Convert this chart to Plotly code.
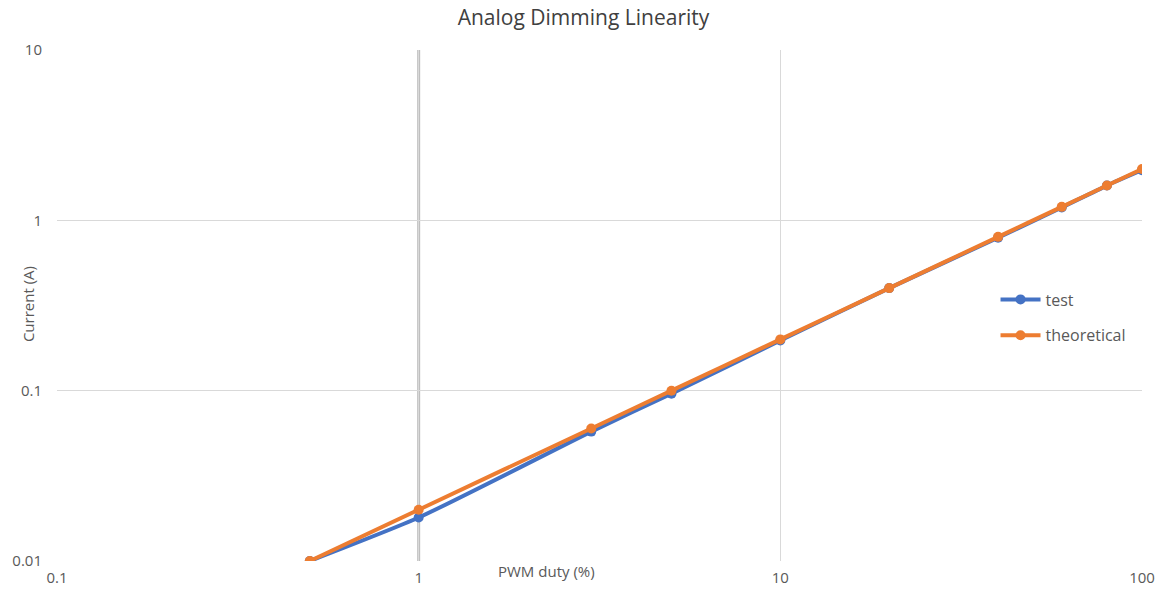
import plotly.graph_objects as go

duty = [0.5, 1, 3, 5, 10, 20, 40, 60, 80, 100]
test = [0.01, 0.018, 0.0575, 0.096, 0.197, 0.4, 0.79, 1.19, 1.6, 1.97]
theoretical = [0.01, 0.02, 0.06, 0.1, 0.2, 0.4, 0.8, 1.2, 1.6, 2.0]
x_ticks = [0.1, 1, 10, 100]
x_labels = ["0.1", "1", "10", "100"]
y_ticks = [0.01, 0.1, 1, 10]
y_labels = ["0.01", "0.1", "1", "10"]

font = "Open Sans, Liberation Sans, sans-serif"

fig = go.Figure()
fig.add_trace(go.Scatter(x=duty, y=test, name="test", mode="lines+markers", legendgroup="a",
                         line=dict(color="#4472C4", width=4, shape="spline", smoothing=0.6),
                         marker=dict(size=10, color="#4472C4")))
fig.add_trace(go.Scatter(x=duty, y=theoretical, name="theoretical", mode="lines+markers", legendgroup="b",
                         line=dict(color="#ED7D31", width=4, shape="spline", smoothing=0.6),
                         marker=dict(size=10, color="#ED7D31")))

fig.add_shape(type="line", xref="x", yref="paper", x0=1, x1=1, y0=0, y1=1,
              line=dict(color="#BFBFBF", width=3), layer="below")

fig.update_layout(
    width=1167, height=599,
    margin=dict(l=57, r=21, t=50, b=36),
    paper_bgcolor="white", plot_bgcolor="white",
    font=dict(family=font, color="#595959", size=15),
    title=dict(text="Analog Dimming Linearity", x=0.5, xanchor="center", y=0.97, yanchor="middle",
               font=dict(size=21, color="#404040")),
    xaxis=dict(type="log", range=[-1, 2], tickvals=x_ticks, ticktext=x_labels,
               showgrid=True, gridcolor="#D9D9D9", gridwidth=1, zeroline=False,
               showline=False, ticks="", ticklabelstandoff=6, tickfont=dict(size=15, color="#595959")),
    yaxis=dict(type="log", range=[-2, 1], tickvals=y_ticks, ticktext=y_labels,
               showgrid=True, gridcolor="#D9D9D9", gridwidth=1, zeroline=False,
               showline=False, ticks="", ticklabelstandoff=14, tickfont=dict(size=15, color="#595959")),
    legend=dict(x=0.865, y=0.545, xanchor="left", yanchor="top", bgcolor="rgba(0,0,0,0)",
                font=dict(size=16, color="#595959"), itemwidth=40, tracegroupgap=12),
    showlegend=True,
)

fig.add_annotation(text="PWM duty (%)", xref="paper", yref="paper", x=(548 - 57) / 1089, y=-10 / 513,
                   showarrow=False, xanchor="center", yanchor="middle", font=dict(size=15, color="#595959"))
fig.add_annotation(text="Current (A)", xref="paper", yref="paper", x=-29 / 1089, y=(563 - 305) / 513,
                   showarrow=False, xanchor="center", yanchor="middle", textangle=-90,
                   font=dict(size=15, color="#595959"))

fig.write_html("out.html", config={"displayModeBar": False},
               post_script="document.body.style.margin='0';document.body.style.padding='0';")
